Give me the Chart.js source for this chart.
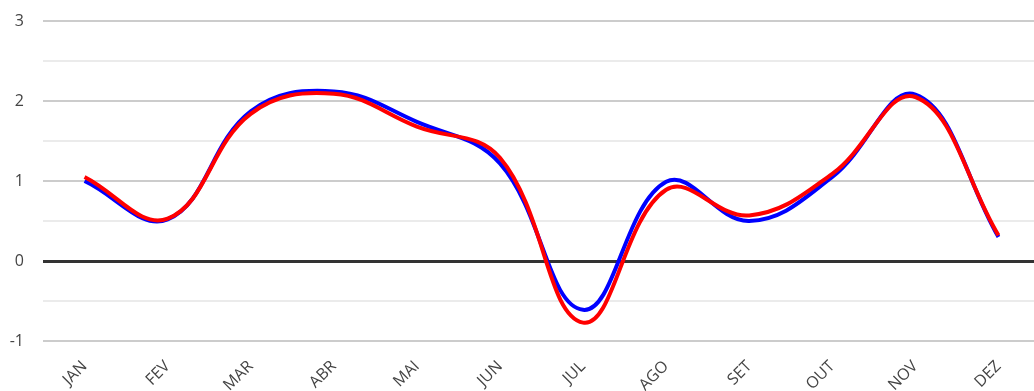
<!DOCTYPE html>
<html>
<head>
<meta charset="utf-8">
<script src="https://cdn.jsdelivr.net/npm/chart.js@4.4.1/dist/chart.umd.min.js"></script>
<style>
    html, body { margin: 0; padding: 0; overflow: hidden; background: #fff; }
    #wrap { width: 1040px; height: 391px; }
</style>
</head>
<body>
<div id="wrap"><canvas id="grafico"></canvas></div>
<script>
const meses = ['JAN', 'FEV', 'MAR', 'ABR', 'MAI', 'JUN', 'JUL', 'AGO', 'SET', 'OUT', 'NOV', 'DEZ'];
const serieAzul = [1.0, 0.52, 1.87, 2.12, 1.74, 1.22, -0.61, 0.99, 0.5, 1.05, 2.08, 0.3];
const serieVermelha = [1.05, 0.53, 1.84, 2.09, 1.68, 1.29, -0.77, 0.89, 0.57, 1.09, 2.05, 0.32];
const eixoY = { min: -1, max: 3, passo: 0.5 };

function corGrelha(ctx) {
    const v = ctx.tick.value;
    if (v === 0) return '#333333';
    if (Number.isInteger(v)) return '#cccccc';
    return '#ebebeb';
}

const ctx = document.getElementById('grafico').getContext('2d');
new Chart(ctx, {
    type: 'line',
    data: {
        labels: meses,
        datasets: [{
            data: serieAzul,
            borderColor: '#0000ff',
            borderWidth: 4,
            pointRadius: 0,
            tension: 0.4,
            fill: false,
            order: 1
        }, {
            data: serieVermelha,
            borderColor: '#ff0000',
            borderWidth: 4,
            pointRadius: 0,
            tension: 0.4,
            fill: false,
            order: 0
        }]
    },
    options: {
        responsive: true,
        maintainAspectRatio: false,
        animation: false,
        layout: { padding: { top: 21, left: 0, right: 0, bottom: 0 } },
        plugins: { legend: { display: false }, tooltip: { enabled: false } },
        scales: {
            x: {
                offset: true,
                grid: { display: false, drawTicks: false },
                border: { display: false },
                ticks: {
                    minRotation: 45,
                    maxRotation: 45,
                    padding: 16,
                    color: '#444444',
                    font: { family: 'Open Sans', size: 16 }
                },
                afterFit: scale => { scale.height = 50; }
            },
            y: {
                min: eixoY.min,
                max: eixoY.max,
                grid: { color: corGrelha, lineWidth: ctx => ctx.tick.value === 0 ? 3 : 2, drawTicks: false },
                border: { display: false },
                ticks: {
                    stepSize: eixoY.passo,
                    padding: 19,
                    color: '#444444',
                    font: { family: 'Open Sans', size: 16 },
                    callback: v => Number.isInteger(v) ? v : ''
                },
                afterFit: scale => {
                    scale.width = 43;
                    scale.paddingTop = 0;
                    scale.paddingBottom = 0;
                }
            }
        }
    }
});
</script>
</body>
</html>
